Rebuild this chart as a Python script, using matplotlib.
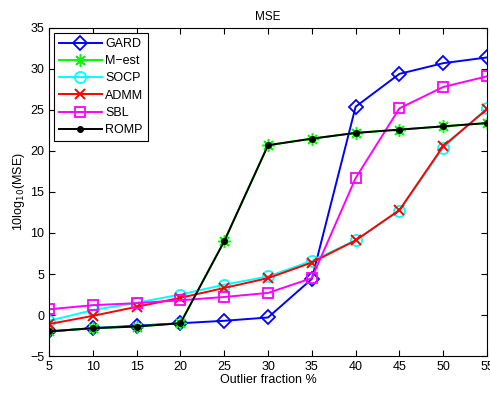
import numpy as np
import matplotlib
matplotlib.use('Agg')
import matplotlib.pyplot as plt

plt.rcParams['font.family'] = ['Liberation Sans', 'DejaVu Sans']

outlier_frac = [5, 10, 15, 20, 25, 30, 35, 40, 45, 50, 55]

gard = [-2.0, -1.6, -1.3, -1.0, -0.7, -0.3, 4.4, 25.4, 29.4, 30.7, 31.4]
mest = [-2.0, -1.6, -1.4, -1.0, 9.0, 20.7, 21.5, 22.2, 22.6, 23.0, 23.4]
socp = [-0.7, 0.6, 1.5, 2.5, 3.7, 4.7, 6.6, 9.1, 12.7, 20.4, 25.2]
admm = [-1.1, -0.1, 1.0, 2.1, 3.3, 4.5, 6.4, 9.1, 12.8, 20.6, 25.1]
sbl = [0.7, 1.2, 1.45, 1.8, 2.2, 2.7, 4.5, 16.7, 25.2, 27.8, 29.1]
romp = [-2.0, -1.6, -1.4, -1.0, 9.0, 20.7, 21.5, 22.2, 22.6, 23.0, 23.4]

fig = plt.figure(figsize=(4.9, 3.93), dpi=100)
ax = fig.add_axes([0.1, 0.094, 0.894, 0.835])

lw = 1.4
ax.plot(outlier_frac, gard, color='#0000ff', marker='D', mfc='none', ms=7.5, mew=1.3, lw=lw, label='GARD')
# MATLAB style asterisk marker
ax.plot(outlier_frac, mest, color='#00ff00', marker=(8, 2, 0), ms=9, mew=1.1, lw=lw, label='M\u2212est')
ax.plot(outlier_frac, socp, color='#00ffff', marker='o', mfc='none', ms=8, mew=1.3, lw=lw, label='SOCP')
ax.plot(outlier_frac, admm, color='#ff0000', marker='x', ms=7, mew=1.4, lw=lw, label='ADMM')
ax.plot(outlier_frac, sbl, color='#ff00ff', marker='s', mfc='none', ms=7, mew=1.3, lw=lw, label='SBL')
ax.plot(outlier_frac, romp, color='black', marker='.', ms=8, lw=lw, label='ROMP')

ax.set_xlim(5, 55)
ax.set_ylim(-5, 35)
ax.set_xticks(np.arange(5, 56, 5))
ax.set_yticks(np.arange(-5, 36, 5))
ax.set_yticklabels(['\u22125'] + [str(v) for v in range(0, 36, 5)])
ax.tick_params(direction='in', top=True, right=True, labelsize=9, length=4)

ax.set_title('MSE', fontsize=8.5)
ax.set_xlabel('Outlier fraction %', fontsize=9, labelpad=1)
ax.set_ylabel('10log$_{10}$(MSE)', fontsize=9, labelpad=2)

leg = ax.legend(loc='upper left', fontsize=9, fancybox=False, edgecolor='black',
                framealpha=1, borderaxespad=0.4, handlelength=3.4, labelspacing=0.42,
                handletextpad=0.3, borderpad=0.4)
leg.get_frame().set_linewidth(0.8)

plt.savefig('out.png', dpi=100)
